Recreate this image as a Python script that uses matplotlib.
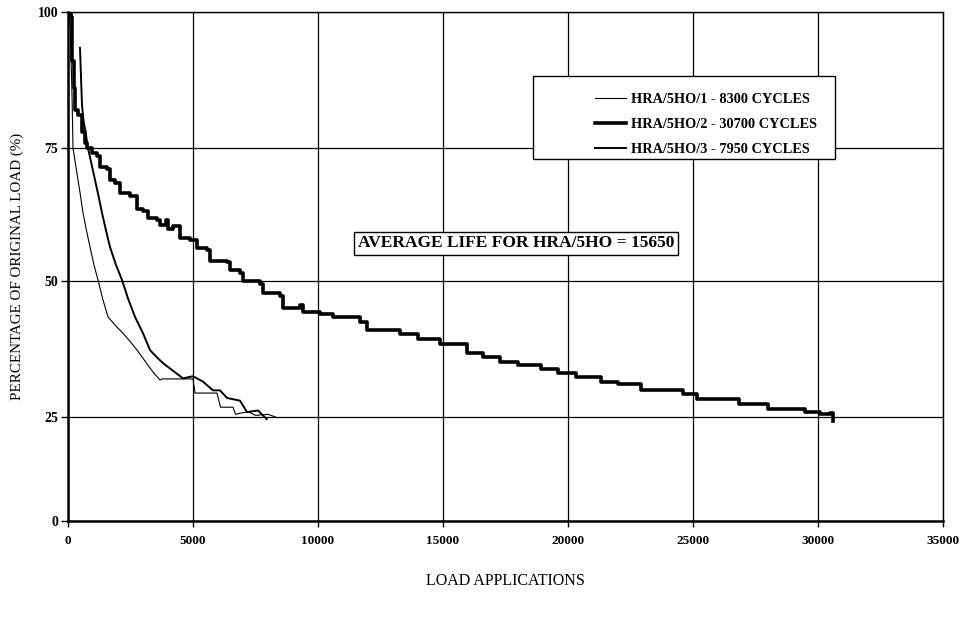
import numpy as np
import matplotlib
matplotlib.use('Agg')
import matplotlib.pyplot as plt
import matplotlib.patches as mpatches

# Read-off values (cycles, % of original load)
x_s1 = [0, 100, 130, 160, 200, 300, 400, 500, 600, 740, 880, 1040, 1200, 1400, 1600, 1900,
        2200, 2500, 2760, 3000, 3200, 3450, 3680, 3760, 5000, 5080, 5960, 6100, 6600, 6700,
        7200, 7500, 8000, 8300]
y_s1 = [100, 97, 90, 85, 75, 72, 69, 66, 62.8, 59.5, 56.4, 53, 50.2, 46.5, 43.4, 41.8,
        40.4, 38.8, 37.3, 35.8, 34.5, 33, 31.8, 32, 32, 29.4, 29.4, 26.8, 26.8, 25.5,
        26, 25.3, 25.5, 25]

x_s2 = [0, 120, 160, 220, 280, 400, 540, 680, 760, 960, 1160, 1280, 1560, 1680, 1880, 2080,
        2480, 2760, 3000, 3200, 3560, 3680, 3900, 4000, 4200, 4480, 4880, 5160, 5560, 5680,
        6360, 6480, 6880, 7000, 7680, 7800, 8480, 8600, 9280, 9400, 10080, 10600, 11680,
        11960, 13280, 14000, 14880, 15960, 16600, 17280, 18000, 18900, 19600, 20300, 21300,
        22000, 22900, 24600, 25160, 26850, 28000, 29500, 30100, 30500, 30600]
y_s2 = [100, 99, 91, 86, 82, 81, 78, 76, 75, 74, 73.5, 71.5, 71, 69, 68.5, 66.6,
        65.9, 63.6, 63.2, 61.8, 61.5, 60.5, 61.5, 59.8, 60.3, 58.1, 57.8, 56.2, 55.8, 53.8,
        53.5, 52, 51.5, 50, 49.5, 47.8, 47.2, 45, 45.5, 44.3, 44, 43.4, 42.5,
        41, 40.3, 39.3, 38.5, 36.8, 36, 35.2, 34.5, 33.8, 33, 32.4, 31.5,
        31, 30, 29.2, 28.3, 27.3, 26.5, 25.9, 25.5, 25.8, 24]

x_s3 = [480, 520, 560, 620, 700, 800, 940, 1080, 1220, 1360, 1520, 1680, 1920, 2160, 2400,
        2680, 3000, 3280, 3550, 3800, 4200, 4600, 5000, 5400, 5800, 6080, 6360, 6880, 7160,
        7600, 7950]
y_s3 = [93.4, 88, 83, 80, 78, 75, 72, 69, 66, 62.8, 59.5, 56.4, 53, 50.2, 46.8,
        43.4, 40.4, 37.3, 36, 34.9, 33.5, 32.1, 32.5, 31.5, 29.9, 29.9, 28.5, 28, 25.9,
        26.2, 24.5]

labels = ['HRA/5HO/1 - 8300 CYCLES', 'HRA/5HO/2 - 30700 CYCLES', 'HRA/5HO/3 - 7950 CYCLES']
x_ticks = [0, 5000, 10000, 15000, 20000, 25000, 30000, 35000]
y_ticks = [0, 25, 50, 75, 100]
note = 'AVERAGE LIFE FOR HRA/5HO = 15650'

# the scanned y axis is not evenly spaced, follow its gridline positions
knots_v = [-100, 0, 25, 50, 75, 100, 200]
knots_p = [-416, 0, 104, 240, 373, 509, 1053]

def fwd(v):
    return np.interp(v, knots_v, knots_p)

def inv(p):
    return np.interp(p, knots_p, knots_v)

plt.rcParams['font.family'] = ['Liberation Serif', 'DejaVu Serif']

fig = plt.figure(figsize=(9.65, 6.21), dpi=100)
ax = fig.add_axes([68 / 965, 1 - 521 / 621, (943 - 68) / 965, (521 - 12) / 621])
ax.set_yscale('function', functions=(fwd, inv))

l1, = ax.plot(x_s1, y_s1, color='black', lw=0.8, zorder=3)
l2, = ax.plot(x_s2, y_s2, color='black', lw=2.6, drawstyle='steps-post', zorder=3)
l3, = ax.plot(x_s3, y_s3, color='black', lw=1.4, zorder=3)

ax.set_xlim(0, 35000)
ax.set_ylim(0, 100)
ax.set_xticks(x_ticks)
ax.set_yticks(y_ticks)
ax.set_xticklabels([str(t) for t in x_ticks], fontweight='bold', fontsize=9.5)
ax.set_yticklabels([str(t) for t in y_ticks], fontweight='bold', fontsize=10)
ax.tick_params(axis='y', direction='out', length=5, width=1, pad=2)
ax.tick_params(axis='x', direction='out', length=4, width=1, pad=6)
ax.grid(True, color='black', lw=0.9)
ax.set_axisbelow(True)
for side in ['top', 'right']:
    ax.spines[side].set_linewidth(1.0)
for side in ['left', 'bottom']:
    ax.spines[side].set_linewidth(1.8)

ax.set_xlabel('LOAD APPLICATIONS', fontsize=11.5, labelpad=19)
ax.set_ylabel('PERCENTAGE OF ORIGINAL LOAD (%)', fontsize=10.8, labelpad=10)

ax.text(17920, 57.1, note, fontsize=12.5, fontweight='bold', ha='center', va='center', zorder=4,
        bbox=dict(boxstyle='square,pad=0.2', facecolor='white', edgecolor='black', lw=1))

# legend box
fig.patches.append(mpatches.Rectangle((533 / 965, 1 - 159 / 621), (835 - 533) / 965, (159 - 76) / 621,
                                      transform=fig.transFigure, facecolor='white',
                                      edgecolor='black', lw=1, zorder=5))
leg = fig.legend([l1, l2, l3], labels, loc='upper left',
                 bbox_to_anchor=(582 / 965, 1 - 80 / 621), frameon=False,
                 handlelength=2.2, handletextpad=0.3, labelspacing=0.85,
                 prop={'family': 'Liberation Serif', 'weight': 'bold', 'size': 10.3})
leg.set_zorder(6)

fig.savefig('out.png', dpi=100)
